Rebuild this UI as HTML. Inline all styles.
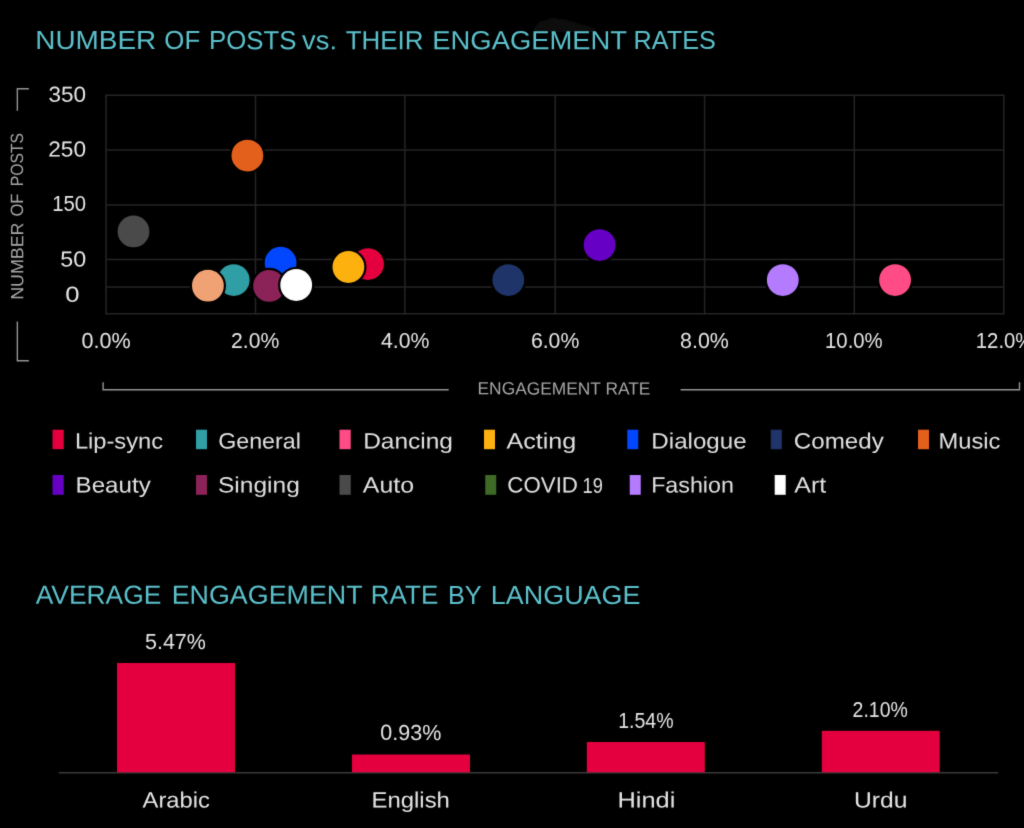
<!DOCTYPE html>
<html lang="en">
<head>
<meta charset="utf-8">
<title>Number of posts vs. their engagement rates</title>
<style>
html,body{margin:0;padding:0;background:#000;}
body{width:1024px;height:828px;overflow:hidden;}
svg{display:block;}
svg text{font-family:"Liberation Sans", sans-serif;font-weight:400;}
</style>
</head>
<body>
<svg width="1024" height="828" viewBox="0 0 1024 828">
<defs>
<filter id="sm" x="-20%" y="-60%" width="140%" height="220%"><feGaussianBlur stdDeviation="2.2"/></filter>
<filter id="soft" x="0" y="0" width="1024" height="828" filterUnits="userSpaceOnUse" color-interpolation-filters="sRGB"><feConvolveMatrix order="3" kernelMatrix="0.02 0.08 0.02 0.08 0.6 0.08 0.02 0.08 0.02" divisor="1" edgeMode="duplicate" preserveAlpha="true"/></filter>
</defs>
<g id="chart" filter="url(#soft)">
<rect width="1024" height="828" fill="#000"/>
<path d="M531 32L539 22L552 18L566 20L584 25L606 32Z" fill="#111111" filter="url(#sm)"/>
<g stroke="#242424" stroke-width="1.5" fill="none">
<line x1="106.00" y1="94.60" x2="106.00" y2="314.50"/>
<line x1="255.50" y1="94.60" x2="255.50" y2="314.50"/>
<line x1="404.90" y1="94.60" x2="404.90" y2="314.50"/>
<line x1="555.20" y1="94.60" x2="555.20" y2="314.50"/>
<line x1="704.60" y1="94.60" x2="704.60" y2="314.50"/>
<line x1="854.30" y1="94.60" x2="854.30" y2="314.50"/>
<line x1="1003.80" y1="94.60" x2="1003.80" y2="314.50"/>
<line x1="106.00" y1="95.35" x2="1003.80" y2="95.35"/>
<line x1="106.00" y1="150.10" x2="1003.80" y2="150.10"/>
<line x1="106.00" y1="204.90" x2="1003.80" y2="204.90"/>
<line x1="106.00" y1="259.60" x2="1003.80" y2="259.60"/>
<line x1="106.00" y1="286.90" x2="1003.80" y2="286.90"/>
<line x1="106.00" y1="313.75" x2="1003.80" y2="313.75"/>
</g>
<g stroke="#969696" stroke-width="1.4" fill="none">
<path d="M28.9 88.8H17.35V110.7"/>
<path d="M17.35 321.4V360.7H28.9"/>
<path d="M103.1 382.3V389.8H448.7"/>
<path d="M680.6 389.8H1019.5V382.3"/>
</g>
<g stroke="#000" stroke-width="2.2">
<circle cx="133.5" cy="231.4" r="17.00" fill="#4a4a4a"/>
<circle cx="247.4" cy="155.6" r="17.00" fill="#e35f1c"/>
<circle cx="233.7" cy="280.1" r="17.00" fill="#2f9ea5"/>
<circle cx="207.9" cy="285.7" r="17.00" fill="#f1a274"/>
<circle cx="280.6" cy="262.7" r="17.00" fill="#0247fe"/>
<circle cx="269.1" cy="285.9" r="17.00" fill="#8b2358"/>
<circle cx="296.2" cy="285.0" r="17.00" fill="#ffffff"/>
<circle cx="368.0" cy="264.1" r="17.00" fill="#e4003f"/>
<circle cx="348.4" cy="267.0" r="17.00" fill="#fdb10f"/>
<circle cx="508.3" cy="280.1" r="17.00" fill="#1f3468"/>
<circle cx="599.6" cy="245.1" r="17.00" fill="#6600c4"/>
<circle cx="782.8" cy="280.1" r="17.00" fill="#b57bff"/>
<circle cx="895.1" cy="280.1" r="17.00" fill="#ff4c87"/>
</g>
<rect x="52.50" y="429.70" width="11.25" height="19.50" fill="#e4003f"/>
<rect x="196.00" y="429.70" width="11.00" height="19.50" fill="#2f9ea5"/>
<rect x="339.50" y="429.70" width="11.25" height="19.50" fill="#ff4c87"/>
<rect x="484.00" y="429.70" width="11.00" height="19.50" fill="#fdb10f"/>
<rect x="627.25" y="429.70" width="11.00" height="19.50" fill="#0247fe"/>
<rect x="770.80" y="429.70" width="11.00" height="19.50" fill="#1f3468"/>
<rect x="918.00" y="429.70" width="11.00" height="19.50" fill="#e35f1c"/>
<rect x="52.50" y="475.00" width="11.25" height="19.80" fill="#6600c4"/>
<rect x="196.00" y="475.00" width="11.00" height="19.80" fill="#8b2358"/>
<rect x="339.50" y="475.00" width="11.25" height="19.80" fill="#4a4a4a"/>
<rect x="485.25" y="475.00" width="11.00" height="19.80" fill="#3f6a25"/>
<rect x="629.75" y="475.00" width="11.00" height="19.80" fill="#b57bff"/>
<rect x="774.70" y="475.00" width="11.00" height="19.80" fill="#ffffff"/>
<line x1="58.8" y1="772.8" x2="998" y2="772.8" stroke="#3a3a3a" stroke-width="1.4"/>
<rect x="117.00" y="663.00" width="118.00" height="109.30" fill="#e4003f"/>
<rect x="352.00" y="754.50" width="118.00" height="17.80" fill="#e4003f"/>
<rect x="586.80" y="742.00" width="118.00" height="30.30" fill="#e4003f"/>
<rect x="821.80" y="730.80" width="117.80" height="41.50" fill="#e4003f"/>
<text id="title1" transform="matrix(1 0.0005 0 1 37.50 49.03)" font-size="26.31" fill="#5bc0cb"><tspan id="title1_0" x="-2.28" textLength="121.03" lengthAdjust="spacingAndGlyphs">NUMBER</tspan> <tspan id="title1_1" x="126.87" textLength="35.82" lengthAdjust="spacingAndGlyphs">OF</tspan> <tspan id="title1_2" x="171.48" textLength="87.39" lengthAdjust="spacingAndGlyphs">POSTS</tspan> <tspan id="title1_3" x="264.61" textLength="34.87" lengthAdjust="spacingAndGlyphs">vs.</tspan> <tspan id="title1_4" x="308.14" textLength="77.92" lengthAdjust="spacingAndGlyphs">THEIR</tspan> <tspan id="title1_5" x="394.77" textLength="194.85" lengthAdjust="spacingAndGlyphs">ENGAGEMENT</tspan> <tspan id="title1_6" x="596.07" textLength="82.22" lengthAdjust="spacingAndGlyphs">RATES</tspan></text>
<text id="title2" transform="matrix(1 0.0005 0 1 36.00 603.65)" font-size="26.16" fill="#5bc0cb"><tspan id="title2_0" x="-0.34" textLength="125.71" lengthAdjust="spacingAndGlyphs">AVERAGE</tspan> <tspan id="title2_1" x="135.68" textLength="190.94" lengthAdjust="spacingAndGlyphs">ENGAGEMENT</tspan> <tspan id="title2_2" x="334.86" textLength="67.36" lengthAdjust="spacingAndGlyphs">RATE</tspan> <tspan id="title2_3" x="411.98" textLength="33.81" lengthAdjust="spacingAndGlyphs">BY</tspan> <tspan id="title2_4" x="454.85" textLength="149.56" lengthAdjust="spacingAndGlyphs">LANGUAGE</tspan></text>
<text id="y350" transform="matrix(1 0.0005 0 1 49.40 101.72)" font-size="21.75" fill="#e6e6e6"><tspan id="y350_0" x="-0.94" textLength="37.63" lengthAdjust="spacingAndGlyphs">350</tspan></text>
<text id="y250" transform="matrix(1 0.0005 0 1 49.40 156.57)" font-size="21.75" fill="#e6e6e6"><tspan id="y250_0" x="-1.16" textLength="37.86" lengthAdjust="spacingAndGlyphs">250</tspan></text>
<text id="y150" transform="matrix(1 0.0005 0 1 53.90 211.47)" font-size="21.75" fill="#e6e6e6"><tspan id="y150_0" x="-1.59" textLength="33.82" lengthAdjust="spacingAndGlyphs">150</tspan></text>
<text id="y50" transform="matrix(1 0.0005 0 1 61.50 266.43)" font-size="21.75" fill="#e6e6e6"><tspan id="y50_0" x="-1.17" textLength="25.96" lengthAdjust="spacingAndGlyphs">50</tspan></text>
<text id="y0" transform="matrix(1 0.0005 0 1 66.30 301.63)" font-size="21.75" fill="#e6e6e6"><tspan id="y0_0" x="-1.02" textLength="14.31" lengthAdjust="spacingAndGlyphs">0</tspan></text>
<text id="x0" transform="matrix(1 0.0005 0 1 82.25 347.92)" font-size="21.75" fill="#e6e6e6"><tspan id="x0_0" x="-0.83" textLength="49.19" lengthAdjust="spacingAndGlyphs">0.0%</tspan></text>
<text id="x2" transform="matrix(1 0.0005 0 1 232.00 347.92)" font-size="21.75" fill="#e6e6e6"><tspan id="x2_0" x="-0.96" textLength="48.21" lengthAdjust="spacingAndGlyphs">2.0%</tspan></text>
<text id="x4" transform="matrix(1 0.0005 0 1 381.50 347.92)" font-size="21.75" fill="#e6e6e6"><tspan id="x4_0" x="-0.44" textLength="48.37" lengthAdjust="spacingAndGlyphs">4.0%</tspan></text>
<text id="x6" transform="matrix(1 0.0005 0 1 532.00 347.92)" font-size="21.75" fill="#e6e6e6"><tspan id="x6_0" x="-1.08" textLength="48.36" lengthAdjust="spacingAndGlyphs">6.0%</tspan></text>
<text id="x8" transform="matrix(1 0.0005 0 1 681.00 347.92)" font-size="21.75" fill="#e6e6e6"><tspan id="x8_0" x="-0.91" textLength="48.80" lengthAdjust="spacingAndGlyphs">8.0%</tspan></text>
<text id="x10" transform="matrix(1 0.0005 0 1 826.50 347.92)" font-size="21.75" fill="#e6e6e6"><tspan id="x10_0" x="-1.49" textLength="57.66" lengthAdjust="spacingAndGlyphs">10.0%</tspan></text>
<text id="x12" transform="matrix(1 0.0005 0 1 977.25 347.92)" font-size="21.75" fill="#e6e6e6"><tspan id="x12_0" x="-1.47" textLength="57.61" lengthAdjust="spacingAndGlyphs">12.0%</tspan></text>
<text id="xlab" transform="matrix(1 0.0005 0 1 478.90 394.36)" font-size="17.59" fill="#a6a6a6"><tspan id="xlab_0" x="-1.36" textLength="172.91" lengthAdjust="spacingAndGlyphs">ENGAGEMENT RATE</tspan></text>
<text id="ylab" transform="matrix(0.0005 -1 1 0.0005 23.20 298.40)" font-size="17.73" fill="#a6a6a6"><tspan id="ylab_0" x="-1.46" textLength="77.27" lengthAdjust="spacingAndGlyphs">NUMBER</tspan> <tspan id="ylab_1" x="81.82" textLength="23.04" lengthAdjust="spacingAndGlyphs">OF</tspan> <tspan id="ylab_2" x="112.14" textLength="53.28" lengthAdjust="spacingAndGlyphs">POSTS</tspan></text>
<text id="l1" transform="matrix(1 0.0005 0 1 76.85 448.53)" font-size="22.09" fill="#e0e0e0"><tspan id="l1_0" x="-1.97" textLength="88.20" lengthAdjust="spacingAndGlyphs">Lip-sync</tspan></text>
<text id="l2" transform="matrix(1 0.0005 0 1 219.35 448.53)" font-size="22.09" fill="#e0e0e0"><tspan id="l2_0" x="-1.23" textLength="82.72" lengthAdjust="spacingAndGlyphs">General</tspan></text>
<text id="l3" transform="matrix(1 0.0005 0 1 365.10 448.53)" font-size="22.09" fill="#e0e0e0"><tspan id="l3_0" x="-1.96" textLength="89.77" lengthAdjust="spacingAndGlyphs">Dancing</tspan></text>
<text id="l4" transform="matrix(1 0.0005 0 1 506.85 448.53)" font-size="22.09" fill="#e0e0e0"><tspan id="l4_0" x="-0.33" textLength="69.73" lengthAdjust="spacingAndGlyphs">Acting</tspan></text>
<text id="l5" transform="matrix(1 0.0005 0 1 653.35 448.53)" font-size="22.09" fill="#e0e0e0"><tspan id="l5_0" x="-2.01" textLength="95.26" lengthAdjust="spacingAndGlyphs">Dialogue</tspan></text>
<text id="l6" transform="matrix(1 0.0005 0 1 795.10 448.53)" font-size="22.09" fill="#e0e0e0"><tspan id="l6_0" x="-1.31" textLength="89.91" lengthAdjust="spacingAndGlyphs">Comedy</tspan></text>
<text id="l7" transform="matrix(1 0.0005 0 1 940.50 448.54)" font-size="22.09" fill="#e0e0e0"><tspan id="l7_0" x="-1.97" textLength="61.86" lengthAdjust="spacingAndGlyphs">Music</tspan></text>
<text id="l8" transform="matrix(1 0.0005 0 1 77.45 492.48)" font-size="22.09" fill="#e0e0e0"><tspan id="l8_0" x="-1.83" textLength="75.11" lengthAdjust="spacingAndGlyphs">Beauty</tspan></text>
<text id="l9" transform="matrix(1 0.0005 0 1 219.35 492.48)" font-size="22.09" fill="#e0e0e0"><tspan id="l9_0" x="-1.35" textLength="81.78" lengthAdjust="spacingAndGlyphs">Singing</tspan></text>
<text id="l10" transform="matrix(1 0.0005 0 1 363.25 492.49)" font-size="22.09" fill="#e0e0e0"><tspan id="l10_0" x="-0.46" textLength="51.18" lengthAdjust="spacingAndGlyphs">Auto</tspan></text>
<text id="l11" transform="matrix(1 0.0005 0 1 508.40 492.48)" font-size="22.09" fill="#e0e0e0"><tspan id="l11_0" x="-1.08" textLength="70.65" lengthAdjust="spacingAndGlyphs">COVID</tspan> <tspan id="l11_1" x="74.18" textLength="20.30" lengthAdjust="spacingAndGlyphs">19</tspan></text>
<text id="l12" transform="matrix(1 0.0005 0 1 653.10 492.48)" font-size="22.09" fill="#e0e0e0"><tspan id="l12_0" x="-1.96" textLength="82.74" lengthAdjust="spacingAndGlyphs">Fashion</tspan></text>
<text id="l13" transform="matrix(1 0.0005 0 1 794.70 492.49)" font-size="22.09" fill="#e0e0e0"><tspan id="l13_0" x="-0.33" textLength="31.94" lengthAdjust="spacingAndGlyphs">Art</tspan></text>
<text id="b1v" transform="matrix(1 0.0005 0 1 146.00 649.02)" font-size="21.75" fill="#e4e4e4"><tspan id="b1v_0" x="-1.04" textLength="60.92" lengthAdjust="spacingAndGlyphs">5.47%</tspan></text>
<text id="b2v" transform="matrix(1 0.0005 0 1 381.25 739.87)" font-size="21.75" fill="#e4e4e4"><tspan id="b2v_0" x="-0.91" textLength="61.01" lengthAdjust="spacingAndGlyphs">0.93%</tspan></text>
<text id="b3v" transform="matrix(1 0.0005 0 1 619.50 728.07)" font-size="21.75" fill="#e4e4e4"><tspan id="b3v_0" x="-1.33" textLength="55.34" lengthAdjust="spacingAndGlyphs">1.54%</tspan></text>
<text id="b4v" transform="matrix(1 0.0005 0 1 853.50 716.57)" font-size="21.75" fill="#e4e4e4"><tspan id="b4v_0" x="-0.92" textLength="55.21" lengthAdjust="spacingAndGlyphs">2.10%</tspan></text>
<text id="b1l" transform="matrix(1 0.0005 0 1 143.00 807.58)" font-size="22.09" fill="#e4e4e4"><tspan id="b1l_0" x="-0.41" textLength="67.28" lengthAdjust="spacingAndGlyphs">Arabic</tspan></text>
<text id="b2l" transform="matrix(1 0.0005 0 1 373.50 807.58)" font-size="22.09" fill="#e4e4e4"><tspan id="b2l_0" x="-2.00" textLength="78.39" lengthAdjust="spacingAndGlyphs">English</tspan></text>
<text id="b3l" transform="matrix(1 0.0005 0 1 619.50 807.59)" font-size="22.09" fill="#e4e4e4"><tspan id="b3l_0" x="-2.09" textLength="57.87" lengthAdjust="spacingAndGlyphs">Hindi</tspan></text>
<text id="b4l" transform="matrix(1 0.0005 0 1 856.00 807.59)" font-size="22.09" fill="#e4e4e4"><tspan id="b4l_0" x="-1.97" textLength="53.48" lengthAdjust="spacingAndGlyphs">Urdu</tspan></text>
</g>
</svg>
</body>
</html>
